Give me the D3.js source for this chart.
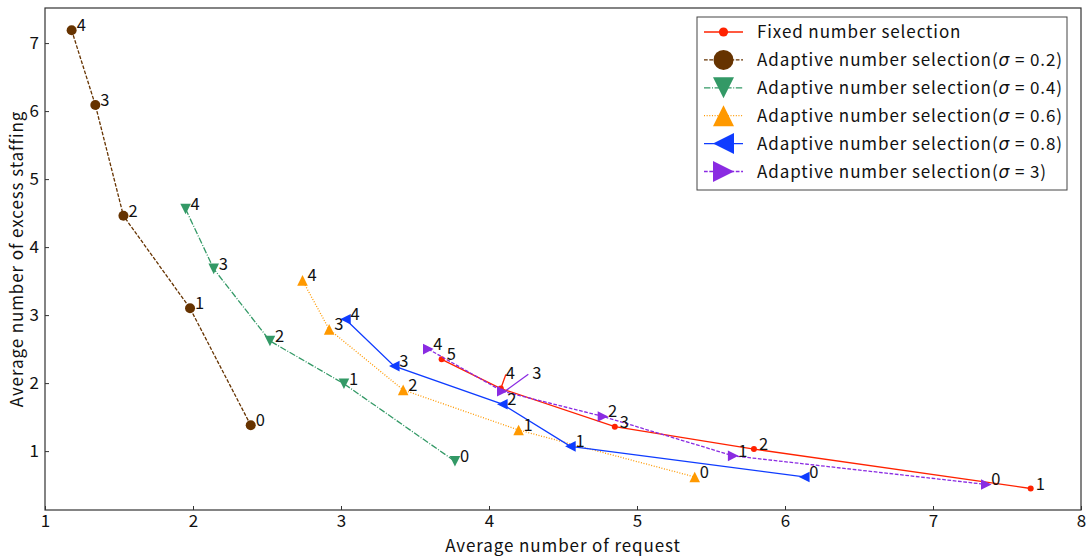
<!DOCTYPE html>
<html><head><meta charset="utf-8">
<script src="https://cdn.jsdelivr.net/npm/d3@7"></script>
<style>
body{margin:0;background:#fff;}
text{font-family:"Noto Sans CJK JP","Noto Sans",sans-serif;fill:#111;}
</style></head>
<body><svg id="c" width="1087" height="557"></svg>
<script>
// ---- data ----
const xTicks = [1,2,3,4,5,6,7,8];
const yTicks = [1,2,3,4,5,6,7];
const fixedX = [3.68,4.08,4.85,5.79,7.66];
const fixedY = [2.35,1.92,1.36,1.03,0.45];
const fixedLabels = ["5","4","3","2","1"];
const s02X = [1.18,1.34,1.53,1.98,2.39];
const s02Y = [7.19,6.09,4.46,3.10,1.38];
const s04X = [1.95,2.14,2.52,3.02,3.77];
const s04Y = [4.56,3.68,2.62,1.99,0.85];
const s06X = [2.74,2.92,3.42,4.20,5.39];
const s06Y = [3.51,2.79,1.90,1.31,0.62];
const s08X = [3.03,3.36,4.09,4.55,6.13];
const s08Y = [2.94,2.25,1.69,1.07,0.62];
const s3X  = [3.59,4.09,4.77,5.65,7.36];
const s3Y  = [2.50,1.88,1.51,0.93,0.51];
const adaptiveLabels = ["4","3","2","1","0"];
const legendNames = ["Fixed number selection","0.2","0.4","0.6","0.8","3"];

// ---- styles ----
const series = [
  {x:fixedX,y:fixedY,labels:fixedLabels,color:"#ff2200",dash:null,marker:"dot",name:legendNames[0]},
  {x:s02X,y:s02Y,labels:adaptiveLabels,color:"#663300",dash:"3.7,1.6",marker:"circle",name:legendNames[1]},
  {x:s04X,y:s04Y,labels:adaptiveLabels,color:"#339966",dash:"6.4,1.6,1,1.6",marker:"down",name:legendNames[2]},
  {x:s06X,y:s06Y,labels:adaptiveLabels,color:"#ff9900",dash:"1,1.65",marker:"up",name:legendNames[3]},
  {x:s08X,y:s08Y,labels:adaptiveLabels,color:"#0f3cff",dash:null,marker:"left",name:legendNames[4]},
  {x:s3X,y:s3Y,labels:adaptiveLabels,color:"#8a2be2",dash:"3.7,1.6",marker:"right",name:legendNames[5]}
];
// label nudges (series index, point index) -> extra offset with leader line
const nudges = {"0-1":[0,-11],"5-1":[25,-13]};

const svg = d3.select("#c");
const L=45,R=1081,T=8,B=510;
const x = d3.scaleLinear().domain([1,8]).range([L,R]);
const y = d3.scaleLinear().domain([0.134,7.516]).range([B,T]);
const LS = "0.9px";

function markerPath(type, s){
  if(type==="circle"||type==="dot") return d3.symbol().type(d3.symbolCircle).size(Math.PI*s*s)();
  const pts = {
    up:[[0,-s],[-s,s],[s,s]],
    down:[[0,s],[-s,-s],[s,-s]],
    left:[[-s,0],[s,-s],[s,s]],
    right:[[s,0],[-s,-s],[-s,s]]
  }[type];
  return "M"+pts.map(p=>p.join(",")).join("L")+"Z";
}
function mSize(type, legend){
  if(type==="dot") return legend?4.6:3;
  if(type==="circle") return legend?10:5;
  return legend?10.5:5.3;
}

// axes
const gx = svg.append("g").attr("transform",`translate(0,${B})`)
  .call(d3.axisBottom(x).tickValues(xTicks).tickSize(-4).tickPadding(5).tickFormat(d3.format("d")));
const gy = svg.append("g").attr("transform",`translate(${L},0)`)
  .call(d3.axisLeft(y).tickValues(yTicks).tickSize(-4).tickPadding(6).tickFormat(d3.format("d")));
[gx,gy].forEach(g=>{
  g.select(".domain").remove();
  g.selectAll(".tick line").attr("stroke","#333");
  g.selectAll(".tick text").style("font-size","17px").attr("fill","#111")
   .style("font-family",'"Noto Sans CJK JP","Noto Sans",sans-serif');
});
svg.append("rect").attr("x",L).attr("y",T).attr("width",R-L).attr("height",B-T)
  .attr("fill","none").attr("stroke","#333").attr("stroke-width",1.2);

// lines, markers, labels
series.forEach((s,si)=>{
  const pts = s.x.map((v,i)=>[x(v),y(s.y[i])]);
  svg.append("path").attr("d",d3.line()(pts)).attr("fill","none")
    .attr("stroke",s.color).attr("stroke-width",1.3)
    .attr("stroke-dasharray",s.dash);
  pts.forEach(p=>{
    svg.append("path").attr("d",markerPath(s.marker,mSize(s.marker,false)))
      .attr("transform",`translate(${p[0]},${p[1]})`).attr("fill",s.color);
  });
});
series.forEach((s,si)=>{
  s.x.forEach((v,i)=>{
    const px=x(v), py=y(s.y[i]);
    const n = nudges[si+"-"+i];
    let tx=px+5, ty=py+1;
    if(n){
      tx+=n[0]; ty+=n[1];
      svg.append("line").attr("x1",px+(si===5?4:0)).attr("y1",py-(si===5?1:0))
        .attr("x2",tx+(si===5?-4:0)).attr("y2",ty+(si===5?-5:-4))
        .attr("stroke",s.color).attr("stroke-width",1.3);
    }
    svg.append("text").attr("x",tx).attr("y",ty).style("font-size","16.5px").text(s.labels[i]);
  });
});

// legend
const lg = svg.append("g");
lg.append("rect").attr("x",697).attr("y",17).attr("width",370).attr("height",173)
  .attr("fill","#fff").attr("stroke","#444").attr("stroke-width",1);
series.forEach((s,i)=>{
  const cy = 32 + i*27.9;
  lg.append("line").attr("x1",704).attr("x2",743).attr("y1",cy).attr("y2",cy)
    .attr("stroke",s.color).attr("stroke-width",1.3).attr("stroke-dasharray",s.dash);
  lg.append("path").attr("d",markerPath(s.marker,mSize(s.marker,true)))
    .attr("transform",`translate(723.5,${cy})`).attr("fill",s.color);
  const t = lg.append("text").attr("x",757).attr("y",cy+6).style("font-size","17px").style("letter-spacing",LS);
  if(i===0){ t.text(s.name); }
  else {
    t.append("tspan").text("Adaptive number selection(");
    t.append("tspan").text("σ").style("font-style","italic").style("font-family","DejaVu Sans");
    t.append("tspan").text(" = "+s.name+")");
  }
});

// axis titles
svg.append("text").attr("x",(L+R)/2).attr("y",552).attr("text-anchor","middle")
  .style("font-size","17px").style("letter-spacing",LS).text("Average number of request");
svg.append("text").attr("transform",`translate(23,${(T+B)/2}) rotate(-90)`).attr("text-anchor","middle")
  .style("font-size","17px").style("letter-spacing",LS).text("Average number of excess staffing");
</script></body></html>
